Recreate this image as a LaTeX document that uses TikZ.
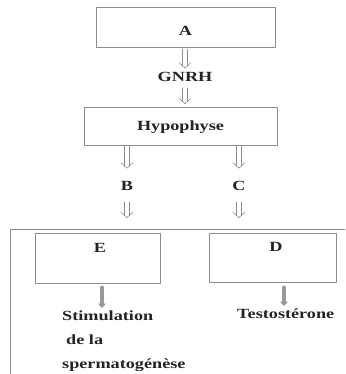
\documentclass[tikz,border=0pt]{standalone}
\usepackage{fontspec}
\setmainfont{Liberation Serif}[FakeStretch=1.3]
\usetikzlibrary{arrows.meta,calc}
\definecolor{linegray}{RGB}{140,140,140}
\definecolor{inkgray}{RGB}{35,35,35}
\tikzset{
  box/.style={draw=linegray, line width=0.8pt, rectangle, inner sep=0pt},
  lbl/.style={inner sep=0pt, text=inkgray, font=\fontsize{14}{24}\selectfont\bfseries},
  stem/.style={draw=linegray, line width=0.6pt},
  fatarrow/.style={draw=gray!80, line width=3.5pt, -{Triangle[width=8pt, length=4.5pt]}}
}
% hollow double arrow from #1 to #2 (named coordinates)
\newcommand\hollowarrow[2]{%
  \draw[stem] ([xshift=-2.3pt]#1) -- ([xshift=-2.3pt,yshift=2pt]#2);
  \draw[stem] ([xshift=2.3pt]#1) -- ([xshift=2.3pt,yshift=2pt]#2);
  \draw[stem] ([xshift=-6pt,yshift=5.5pt]#2) -- (#2) -- ([xshift=6pt,yshift=5.5pt]#2);
}
\begin{document}
\begin{tikzpicture}[x=1pt, y=-1pt, line join=round, line cap=round]
 \useasboundingbox (0,0) rectangle (345,374);
 % boxes
 \node[box, minimum width=179pt, minimum height=40pt] (A) at (185.5,27) {};
 \node[lbl] at (185.5,31) {A};
 \node[box, minimum width=193pt, minimum height=38pt] (hyp) at (180.5,126) {};
 \node[lbl] at (180.5,127) {Hypophyse};
 \node[lbl] (gnrh) at (185,77) {GNRH};
 \node[lbl] (lblB) at (127,186) {B};
 \node[lbl] (lblC) at (239,186) {C};
 % frame
 \draw[draw=linegray, line width=0.8pt] (10,374) -- (10,229) -- (345,229);
 \node[box, minimum width=125pt, minimum height=50pt] (E) at (97.5,258) {};
 \node[lbl] at (100,248) {E};
 \node[box, minimum width=127pt, minimum height=49pt] (D) at (272.5,257.5) {};
 \node[lbl] at (276,247) {D};
 \node[lbl, anchor=north west, align=left] (stim) at (62,311)
   {Stimulation\\\hspace*{4pt}de la\\spermatogénèse};
 \node[lbl, anchor=north west] (testo) at (237,309) {Testostérone};
 % arrow ends
 \coordinate (g1) at ($(A.south -| gnrh)+(0,2)$);
 \coordinate (g2) at ($(gnrh.north)+(0,-4)$);
 \coordinate (g3) at ($(gnrh.south)+(0,6)$);
 \coordinate (g4) at ($(hyp.north -| gnrh)+(0,-3)$);
 \coordinate (b1) at (hyp.south -| lblB);
 \coordinate (b2) at ($(lblB.north)+(0,-13)$);
 \coordinate (b3) at ($(lblB.south)+(0,11)$);
 \coordinate (b4) at ($(E.north -| lblB)+(0,-15)$);
 \coordinate (c1) at (hyp.south -| lblC);
 \coordinate (c2) at ($(lblC.north)+(0,-13)$);
 \coordinate (c3) at ($(lblC.south)+(0,11)$);
 \coordinate (c4) at ($(D.north -| lblC)+(0,-15)$);
 \hollowarrow{g1}{g2}
 \hollowarrow{g3}{g4}
 \hollowarrow{b1}{b2}
 \hollowarrow{b3}{b4}
 \hollowarrow{c1}{c2}
 \hollowarrow{c3}{c4}
 \draw[fatarrow, shorten <=4pt, shorten >=3pt] ([xshift=4.5pt]E.south) -- ([xshift=4.5pt]E.south |- stim.north);
 \draw[fatarrow, shorten <=5pt, shorten >=3pt] ([xshift=11.5pt]D.south) -- ([xshift=11.5pt]D.south |- testo.north);
\end{tikzpicture}
\end{document}
